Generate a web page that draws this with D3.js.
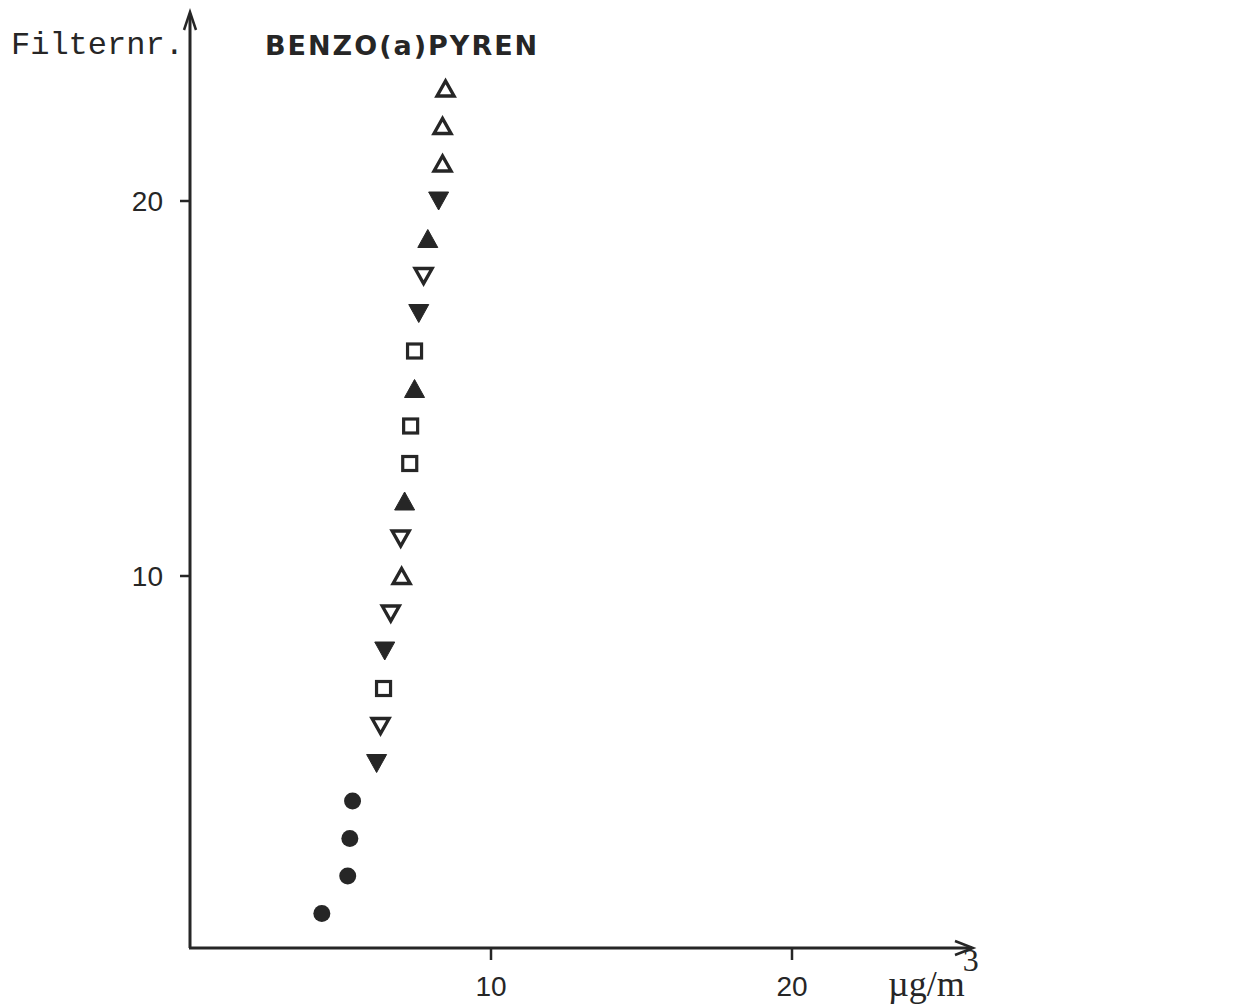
<!DOCTYPE html>
<html><head><meta charset="utf-8">
<script src="https://cdn.jsdelivr.net/npm/d3@7"></script>
<style>body{margin:0;background:#fff}svg{display:block}</style>
</head><body>
<svg id="c" width="1255" height="1006"></svg>
<script>
const filters = [1,2,3,4,5,6,7,8,9,10,11,12,13,14,15,16,17,18,19,20,21,22,23];
const values  = [4.38,5.24,5.31,5.4,6.2,6.33,6.43,6.47,6.67,7.03,7.0,7.13,7.3,7.33,7.46,7.46,7.6,7.76,7.9,8.26,8.39,8.39,8.49];
const symbols = ["circle","circle","circle","circle","triDownFilled","triDownOpen","squareOpen","triDownFilled","triDownOpen","triUpOpen","triDownOpen","triUpFilled","squareOpen","squareOpen","triUpFilled","squareOpen","triDownFilled","triDownOpen","triUpFilled","triDownFilled","triUpOpen","triUpOpen","triUpOpen"];
const yTicks = [10, 20];
const xTicks = [10, 20];
const title = "BENZO(a)PYREN";
const yLabel = "Filternr.";

const svg = d3.select("#c");
const x = d3.scaleLinear().domain([0, 20]).range([190, 792]);
const y = d3.scaleLinear().domain([0, 20]).range([951, 201]);
const ink = "#262626";
const axisY = 948;

// axes lines
svg.append("line").attr("x1", x(0)).attr("x2", x(0)).attr("y1", axisY).attr("y2", 16)
  .attr("stroke", ink).attr("stroke-width", 3);
svg.append("path").attr("d", `M${x(0)-6},${30} L${x(0)},${12} L${x(0)+6},${30}`)
  .attr("fill", "none").attr("stroke", ink).attr("stroke-width", 2.5);
svg.append("line").attr("x1", x(0)-1).attr("x2", 972).attr("y1", axisY).attr("y2", axisY)
  .attr("stroke", ink).attr("stroke-width", 3);
svg.append("path").attr("d", `M955,${axisY-7} L973,${axisY} L955,${axisY+7}`)
  .attr("fill", "none").attr("stroke", ink).attr("stroke-width", 2.5);

// ticks
yTicks.forEach(t => {
  svg.append("line").attr("x1", x(0)-10).attr("x2", x(0)).attr("y1", y(t)).attr("y2", y(t))
    .attr("stroke", ink).attr("stroke-width", 2.5);
  svg.append("text").attr("x", 163).attr("y", y(t)+10).attr("text-anchor", "end")
    .attr("font-family", "Liberation Sans, Arial, sans-serif").attr("font-size", 28).attr("fill", ink).text(t);
});
xTicks.forEach(t => {
  svg.append("line").attr("x1", x(t)).attr("x2", x(t)).attr("y1", axisY).attr("y2", axisY+12)
    .attr("stroke", ink).attr("stroke-width", 2.5);
  svg.append("text").attr("x", x(t)).attr("y", 996).attr("text-anchor", "middle")
    .attr("font-family", "Liberation Sans, Arial, sans-serif").attr("font-size", 28).attr("fill", ink).text(t);
});

// labels
svg.append("text").attr("x", 11).attr("y", 54).attr("font-family", "Liberation Mono, Courier New, monospace")
  .attr("font-size", 32).attr("fill", ink).text(yLabel);
svg.append("text").attr("x", 265).attr("y", 55).attr("font-family", "DejaVu Sans, sans-serif").attr("font-weight", "bold")
  .attr("font-size", 27).attr("letter-spacing", 2).attr("fill", ink).text(title);
const u = svg.append("text").attr("x", 888).attr("y", 996).attr("font-family", "Liberation Serif, Times New Roman, serif")
  .attr("font-size", 36).attr("fill", ink);
u.append("tspan").text("\u00b5g/m");
u.append("tspan").attr("dy", -25).attr("dx", -2).attr("font-size", 32).text("3");

// markers
const g = svg.append("g");
filters.forEach((f, i) => {
  const cx = x(values[i]), cy = y(f), s = symbols[i];
  if (s === "circle") {
    g.append("circle").attr("cx", cx).attr("cy", cy).attr("r", 8.5).attr("fill", ink);
  } else if (s.startsWith("tri")) {
    const up = s.startsWith("triUp");
    const filled = s.endsWith("Filled");
    const w = filled ? 10 : 8.5, h = filled ? 9 : 7.5;
    const d = up ? `M${cx-w},${cy+h} L${cx},${cy-h} L${cx+w},${cy+h} Z`
                 : `M${cx-w},${cy-h} L${cx},${cy+h} L${cx+w},${cy-h} Z`;
    g.append("path").attr("d", d)
      .attr("fill", filled ? ink : "none").attr("stroke", ink)
      .attr("stroke-width", filled ? 1 : 3.4).attr("stroke-linejoin", "miter");
  } else {
    g.append("rect").attr("x", cx-7).attr("y", cy-7).attr("width", 14).attr("height", 14)
      .attr("fill", "none").attr("stroke", ink).attr("stroke-width", 3.2);
  }
});
</script>
</body></html>
